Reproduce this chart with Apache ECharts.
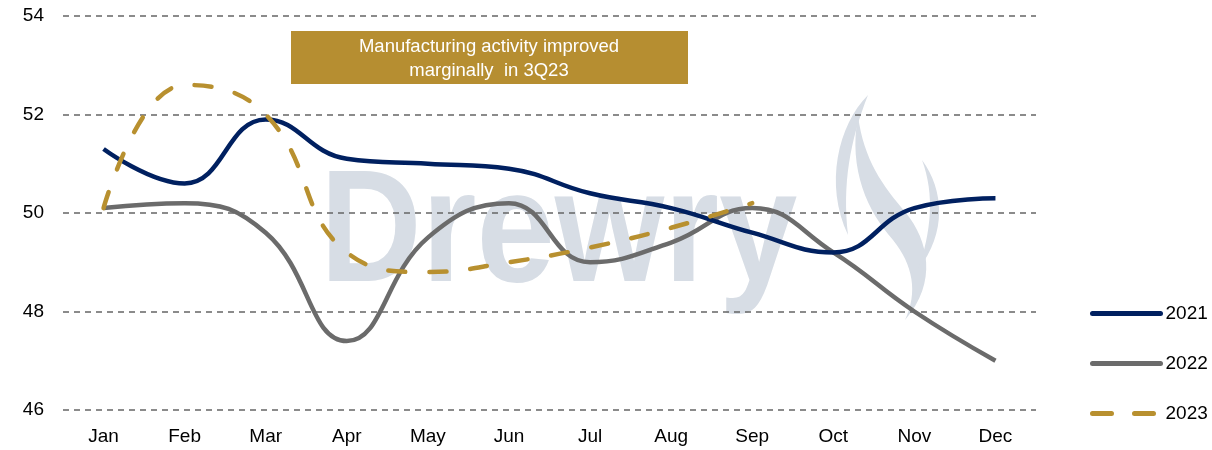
<!DOCTYPE html>
<html><head><meta charset="utf-8">
<script src="https://cdn.jsdelivr.net/npm/echarts@6/dist/echarts.min.js"></script>
<style>html,body{margin:0;padding:0;background:#fff}#c{width:1212px;height:450px}</style>
</head><body><div id="c"></div>
<script>
const months = ['Jan','Feb','Mar','Apr','May','Jun','Jul','Aug','Sep','Oct','Nov','Dec'];
const s2021 = [51.3,50.6,51.9,51.1,51.0,50.9,50.4,50.1,49.6,49.2,50.1,50.3];
const s2022 = [50.1,50.2,49.6,47.4,49.5,50.2,49.0,49.4,50.1,49.2,48.0,47.0];
const s2023 = [50.1,52.6,52.0,49.2,48.8,49.0,49.3,49.7,50.2];
const yTicks = [46,48,50,52,54];
const annotation = 'Manufacturing activity improved\nmarginally  in 3Q23';

// decorative watermark flame outline: start point + cubic segments
function bez(start, segs){
  const pts=[start]; let p=start;
  segs.forEach(s=>{
    const [c1,c2,e]=s;
    for(let i=1;i<=16;i++){const t=i/16,u=1-t;
      pts.push([u*u*u*p[0]+3*u*u*t*c1[0]+3*u*t*t*c2[0]+t*t*t*e[0],
                u*u*u*p[1]+3*u*u*t*c1[1]+3*u*t*t*c2[1]+t*t*t*e[1]]);}
    p=e;});
  return pts;
}
const flameA = bez([868,95],[[[838,125],[824,185],[848,235]],[[842,185],[850,140],[868,95]]]);
const flameB = bez([858,116],[[[848,170],[868,212],[893,240]],[[913,265],[918,292],[905,320]],[[938,282],[928,240],[906,213]],[[882,185],[864,160],[858,116]]]);
const flameC = bez([922,160],[[[944,190],[947,232],[918,270]],[[931,232],[935,195],[922,160]]]);

const chart = echarts.init(document.getElementById('c'));
const font = 'Liberation Sans, Arial, sans-serif';
const wm = '#d7dde5';
chart.setOption({
  animation:false,
  grid:{left:63,right:176,top:16,bottom:40,containLabel:false},
  legend:{orient:'vertical',left:1085,top:299,itemWidth:68,itemHeight:18,itemGap:31,
    itemStyle:{opacity:0},
    textStyle:{fontFamily:font,fontSize:19,color:'#000'},
    data:[
      {name:'2021',lineStyle:{width:5,cap:'round'}},
      {name:'2022',lineStyle:{width:5,cap:'round'}},
      {name:'2023',lineStyle:{width:5,cap:'round',type:[19,23]}}
    ]},
  graphic:[
    {type:'text',z:0,x:320,y:0,scaleX:0.88,originX:0,
      style:{x:0,y:157,text:'Drewry',font:'bold 160px '+font,fill:wm,verticalAlign:'top'}},
    {type:'polygon',z:0,shape:{points:flameA},style:{fill:wm}},
    {type:'polygon',z:0,shape:{points:flameB},style:{fill:wm}},
    {type:'polygon',z:0,shape:{points:flameC},style:{fill:wm}},
    {type:'rect',z:1,shape:{x:291,y:31,width:397,height:53},style:{fill:'#b68e31'}},
    {type:'text',z:2,style:{x:489,y:59,text:annotation,font:'18.5px '+font,fill:'#fff',align:'center',verticalAlign:'middle',lineHeight:24}}
  ],
  xAxis:{type:'category',data:months,boundaryGap:true,
    axisLine:{show:false},axisTick:{show:false},
    axisLabel:{fontFamily:font,fontSize:19,color:'#000',margin:17}},
  yAxis:{type:'value',min:46,max:54,interval:2,
    axisLine:{show:false},axisTick:{show:false},
    axisLabel:{fontFamily:font,fontSize:19,color:'#000',margin:19,
      formatter:v=>yTicks.includes(v)?String(v):''},
    splitLine:{lineStyle:{color:'#666',type:[6,5],width:1.5}}},
  series:[
    {name:'2021',type:'line',data:s2021,smooth:0.45,symbol:'none',z:5,
      lineStyle:{color:'#002060',width:4.5},itemStyle:{color:'#002060'}},
    {name:'2022',type:'line',data:s2022,smooth:0.45,symbol:'none',z:4,
      lineStyle:{color:'#6b6b6b',width:4.5},itemStyle:{color:'#6b6b6b'}},
    {name:'2023',type:'line',data:s2023,smooth:0.45,symbol:'none',z:6,
      lineStyle:{color:'#b8902f',width:4.5,type:[17,24],cap:'round'},itemStyle:{color:'#b8902f'}}
  ]
});
</script></body></html>
